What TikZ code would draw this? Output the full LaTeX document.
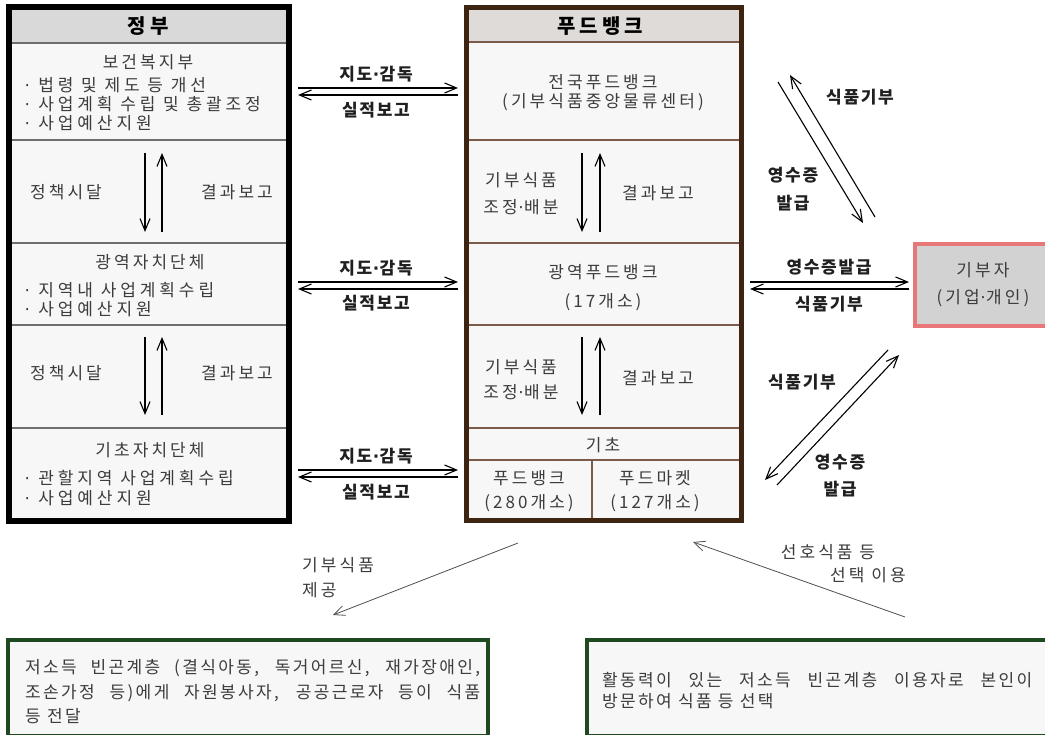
\documentclass[tikz,border=0pt]{standalone}
\usepackage{fontspec}
\usetikzlibrary{arrows.meta}
\newfontfamily\krs{Noto Sans CJK KR}[LetterSpace=18]
\newfontfamily\krw{Noto Sans CJK KR}[LetterSpace=23]
\newfontfamily\krl{Noto Sans CJK KR}[LetterSpace=10]
\newfontfamily\krb{Noto Sans CJK KR}[LetterSpace=20]
\newfontfamily\krn{Noto Sans CJK KR}[LetterSpace=14]
\newfontfamily\dvs{DejaVu Sans}
\newcommand\mdot{{\dvs\kern0.5pt·\kern0.5pt}}
\definecolor{cellfill}{HTML}{F7F7F7}
\definecolor{hdrfill}{HTML}{D9D9D9}
\definecolor{hdrfillb}{HTML}{DEDBD8}
\definecolor{govdiv}{HTML}{6E6E6E}
\definecolor{fbdiv}{HTML}{7A5A48}
\definecolor{fbborder}{HTML}{3D2410}
\definecolor{donorfill}{HTML}{D2D2D2}
\definecolor{donorborder}{HTML}{E8777A}
\definecolor{grnborder}{HTML}{1F4A1F}
\definecolor{txtgray}{HTML}{3C3C3C}
\definecolor{lblcol}{HTML}{202020}
\definecolor{arrgray}{HTML}{505050}
\begin{document}
\begin{tikzpicture}[x=1pt,y=-1pt,
  intxt/.style={font=\krs\fontsize{17}{19}\selectfont, text=txtgray, inner sep=0pt},
  bultxt/.style={font=\krw\fontsize{17}{19}\selectfont, text=txtgray, inner sep=0pt, anchor=west},
  hdrtxt/.style={font=\krb\bfseries\fontsize{20}{22}\selectfont, text=black, inner sep=0pt},
  lbl/.style={font=\krl\bfseries\fontsize{17}{19}\selectfont, text=lblcol, inner sep=0pt},
  btxt/.style={font=\krs\fontsize{17}{19}\selectfont, text=txtgray, inner sep=0pt, anchor=west},
  boxtxt/.style={font=\krn\fontsize{17}{19}\selectfont, text=txtgray, inner sep=0pt, anchor=west},
  arr/.style={-{Straight Barb[length=12pt,width=10pt,line width=1.1pt]}, line width=1.1pt},
  thinarr/.style={-{Straight Barb[length=11pt,width=10pt,line width=0.8pt]}, line width=0.8pt, draw=arrgray},
]
\useasboundingbox (0,0) rectangle (1045,735);
\fill[white] (0,0) rectangle (1045,735);

% ---------------- Government box
\fill[cellfill] (8.5,7.5) rectangle (288.5,520.5);
\fill[hdrfill] (8.5,7.5) rectangle (288.5,43);
\foreach \yy in {43,140,243,325,428}
  \draw[govdiv, line width=1.2pt] (8.5,\yy) -- (288.5,\yy);
\draw[line width=6pt] (8.5,7.5) rectangle (288.5,520.5);

\node[hdrtxt] (gov) at (148,26) {정부};
\node[intxt] (mohw) at (148,62) {보건복지부};
\node[bultxt] (b1) at (24,85) {\mdot\ 법령 및 제도 등 개선};
\node[bultxt] (b2) at (24,104) {\mdot\ 사업계획 수립 및 총괄조정};
\node[bultxt] (b3) at (24,123) {\mdot\ 사업예산지원};

\node[intxt] (pol1) at (66,192) {정책시달};
\node[intxt] (rep1) at (237,192) {결과보고};
\coordinate (ga1) at (145,153); \coordinate (ga2) at (145,232);
\coordinate (gb1) at (162,232); \coordinate (gb2) at (162,153);
\draw[arr] (ga1) -- (ga2);
\draw[arr] (gb1) -- (gb2);

\node[intxt] (reg) at (150,262) {광역자치단체};
\node[bultxt] (b4) at (24,290) {\mdot\ 지역내 사업계획수립};
\node[bultxt] (b5) at (24,309) {\mdot\ 사업예산지원};

\node[intxt] (pol2) at (66,373) {정책시달};
\node[intxt] (rep2) at (237,373) {결과보고};
\coordinate (gc1) at (145,337); \coordinate (gc2) at (145,415);
\coordinate (gd1) at (162,415); \coordinate (gd2) at (162,337);
\draw[arr] (gc1) -- (gc2);
\draw[arr] (gd1) -- (gd2);

\node[intxt] (loc) at (150,450) {기초자치단체};
\node[bultxt] (b6) at (24,478) {\mdot\ 관할지역 사업계획수립};
\node[bultxt] (b7) at (24,498) {\mdot\ 사업예산지원};

% ---------------- Food bank box
\fill[cellfill] (466,7.5) rectangle (741,520);
\fill[hdrfillb] (466,7.5) rectangle (741,42);
\foreach \yy in {42,140,243,325,428,460}
  \draw[fbdiv, line width=1.2pt] (466,\yy) -- (741,\yy);
\draw[fbdiv, line width=1.2pt] (592,460) -- (592,520);
\draw[fbborder, line width=5pt] (466,7.5) rectangle (741,520);

\node[hdrtxt] (fb) at (600,26) {푸드뱅크};
\node[intxt] (nat) at (603,82) {전국푸드뱅크};
\node[intxt] (natb) at (603,102) {(기부식품중앙물류센터)};
\node[intxt] (don1) at (521,180) {기부식품};
\node[intxt] (adj1) at (521,207) {조정\mdot 배분};
\node[intxt] (rep3) at (658,193) {결과보고};
\coordinate (fa1) at (582,153); \coordinate (fa2) at (582,232);
\coordinate (fb1) at (600,232); \coordinate (fb2) at (600,153);
\draw[arr] (fa1) -- (fa2);
\draw[arr] (fb1) -- (fb2);

\node[intxt] (rfb) at (603,272) {광역푸드뱅크};
\node[intxt] (rfbn) at (603,302) {(17개소)};
\node[intxt] (don2) at (521,367) {기부식품};
\node[intxt] (adj2) at (521,392) {조정\mdot 배분};
\node[intxt] (rep4) at (658,378) {결과보고};
\coordinate (fc1) at (582,337); \coordinate (fc2) at (582,415);
\coordinate (fd1) at (600,415); \coordinate (fd2) at (600,337);
\draw[arr] (fc1) -- (fc2);
\draw[arr] (fd1) -- (fd2);

\node[intxt] (base) at (603,445) {기초};
\node[intxt] (lfb) at (529,478) {푸드뱅크};
\node[intxt] (lfbn) at (529,503) {(280개소)};
\node[intxt] (lfm) at (655,478) {푸드마켓};
\node[intxt] (lfmn) at (655,503) {(127개소)};

% ---------------- Arrows between government and food bank
\foreach \yy/\nm in {88/p, 282/q, 470/r}{
  \coordinate (\nm L) at (298,\yy);
  \coordinate (\nm R) at (458,\yy);
  \coordinate (\nm Lb) at (298,\yy+7);
  \coordinate (\nm Rb) at (458,\yy+7);
  \draw[arr] (\nm L) -- (\nm R);
  \draw[arr] (\nm Rb) -- (\nm Lb);
}
\node[lbl] (sup1) at (376,74) {지도\mdot 감독};
\node[lbl] (per1) at (376,110) {실적보고};
\node[lbl] (sup2) at (376,268) {지도\mdot 감독};
\node[lbl] (per2) at (376,303) {실적보고};
\node[lbl] (sup3) at (376,456) {지도\mdot 감독};
\node[lbl] (per3) at (376,492) {실적보고};

% ---------------- Donor
\draw[donorborder, fill=donorfill, line width=3.5pt] (915,244) rectangle (1056,326);
\node[intxt] (donor) at (983,270) {기부자};
\node[intxt] (donorb) at (983,298) {(기업\mdot 개인)};

\coordinate (dL) at (750,282); \coordinate (dR) at (909,282);
\coordinate (dLb) at (750,289); \coordinate (dRb) at (909,289);
\draw[arr] (dL) -- (dR);
\draw[arr] (dRb) -- (dLb);
\node[lbl] (rc1) at (829,267) {영수증발급};
\node[lbl] (fd1l) at (829,304) {식품기부};

% upper diagonal pair
\coordinate (ua1) at (778,82); \coordinate (ua2) at (863,223);
\coordinate (ub1) at (875,217); \coordinate (ub2) at (790,75);
\draw[arr] (ua1) -- (ua2);
\draw[arr] (ub1) -- (ub2);
\node[lbl] (ufd) at (860,97) {식품기부};
\node[lbl] (urc) at (793,175) {영수증};
\node[lbl] (urc2) at (793,203) {발급};

% lower diagonal pair
\coordinate (la1) at (888,350); \coordinate (la2) at (765,480);
\coordinate (lb1) at (777,485); \coordinate (lb2) at (899,355);
\draw[arr] (la1) -- (la2);
\draw[arr] (lb1) -- (lb2);
\node[lbl] (lfd) at (802,382) {식품기부};
\node[lbl] (lrc) at (840,462) {영수증};
\node[lbl] (lrc2) at (840,489) {발급};

% ---------------- Bottom
\coordinate (bl1) at (518,543); \coordinate (bl2) at (333,615);
\draw[thinarr] (bl1) -- (bl2);
\node[btxt] (prov) at (302,565) {기부식품};
\node[btxt] (prov2) at (302,590) {제공};

\coordinate (br1) at (905,617); \coordinate (br2) at (693,542);
\draw[thinarr] (br1) -- (br2);
\node[btxt, anchor=center] (pref) at (828,552) {선호식품 등};
\node[btxt, anchor=center] (pref2) at (868,575) {선택 이용};

\draw[grnborder, fill=cellfill, line width=4pt] (8,640) rectangle (488,736);
\node[boxtxt] (lt1) at (25,668) {\makebox[455pt][s]{저소득 빈곤계층 (결식아동, 독거어르신, 재가장애인,}};
\node[boxtxt] (lt2) at (25,693) {\makebox[455pt][s]{조손가정 등)에게 자원봉사자, 공공근로자 등이 식품}};
\node[boxtxt] (lt3) at (25,716) {등 전달};

\draw[grnborder, fill=cellfill, line width=4pt] (587,640) rectangle (1050,736);
\node[boxtxt] (rt1) at (602,680) {\makebox[430pt][s]{활동력이 있는 저소득 빈곤계층 이용자로 본인이}};
\node[boxtxt] (rt2) at (602,701) {방문하여 식품 등 선택};
\end{tikzpicture}
\end{document}
